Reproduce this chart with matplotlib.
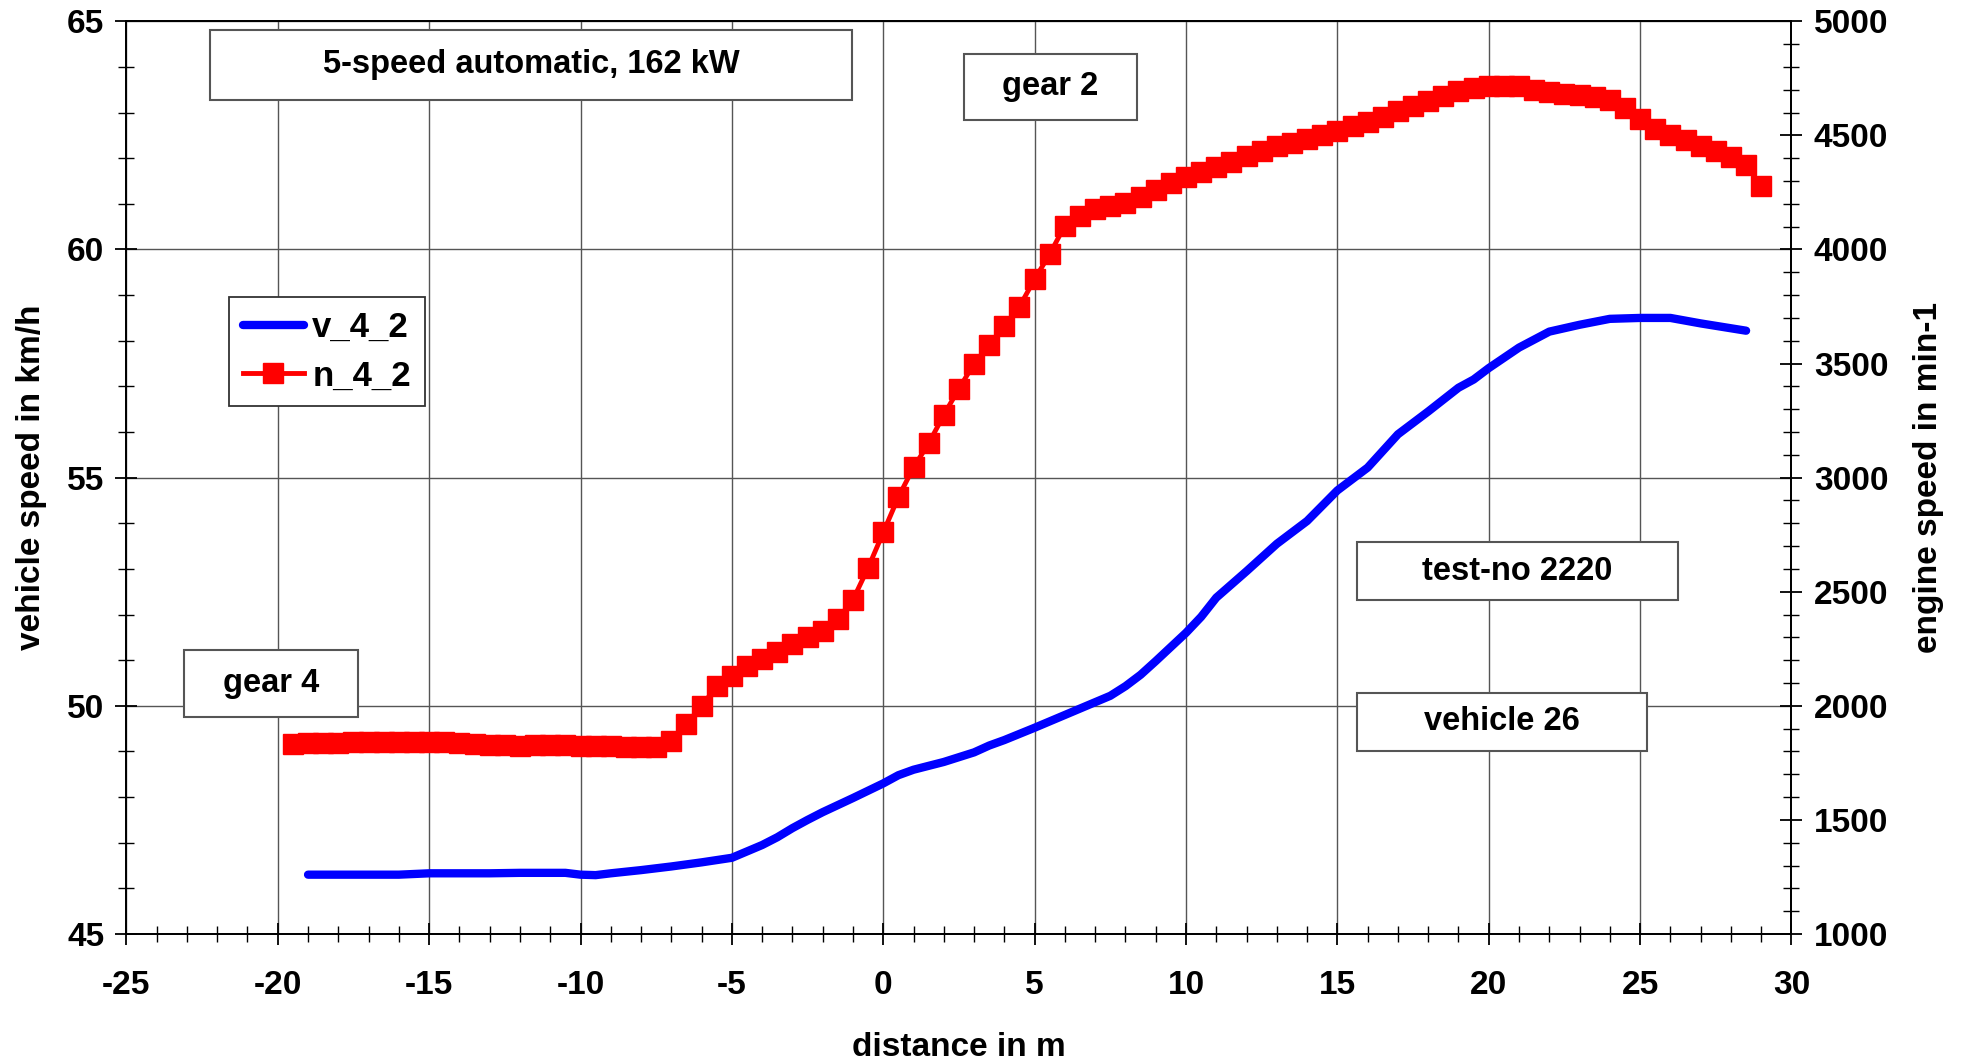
import matplotlib
matplotlib.use("Agg")
import matplotlib.pyplot as plt
from matplotlib.ticker import MultipleLocator
from matplotlib.patches import Rectangle

plt.rcParams['font.family'] = ['Liberation Sans', 'DejaVu Sans']
plt.rcParams['font.weight'] = 'bold'
plt.rcParams['axes.unicode_minus'] = False

# engine speed n_4_2 (min-1) vs distance (m)
n_x = [-19.5, -19.0, -18.5, -18.0, -17.5, -17.0, -16.5, -16.0, -15.5, -15.0,
       -14.5, -14.0, -13.5, -13.0, -12.5, -12.0, -11.5, -11.0, -10.5, -10.0,
       -9.5, -9.0, -8.5, -8.0, -7.5, -7.0, -6.5, -6.0, -5.5, -5.0,
       -4.5, -4.0, -3.5, -3.0, -2.5, -2.0, -1.5, -1.0, -0.5, 0.0,
       0.5, 1.0, 1.5, 2.0, 2.5, 3.0, 3.5, 4.0, 4.5, 5.0,
       5.5, 6.0, 6.5, 7.0, 7.5, 8.0, 8.5, 9.0, 9.5, 10.0,
       10.5, 11.0, 11.5, 12.0, 12.5, 13.0, 13.5, 14.0, 14.5, 15.0,
       15.5, 16.0, 16.5, 17.0, 17.5, 18.0, 18.5, 19.0, 19.5, 20.0,
       20.5, 21.0, 21.5, 22.0, 22.5, 23.0, 23.5, 24.0, 24.5, 25.0,
       25.5, 26.0, 26.5, 27.0, 27.5, 28.0, 28.5, 29.0]
n_val = [1833, 1835, 1836, 1838, 1840, 1841, 1842, 1843, 1843, 1842,
         1840, 1836, 1832, 1829, 1827, 1826, 1827, 1828, 1828, 1826,
         1824, 1822, 1820, 1818, 1818, 1845, 1920, 2000, 2085, 2130,
         2175, 2205, 2238, 2270, 2300, 2330, 2380, 2465, 2605, 2760,
         2915, 3045, 3150, 3275, 3390, 3500, 3580, 3665, 3750, 3870,
         3980, 4105, 4145, 4178, 4190, 4205, 4232, 4262, 4292, 4318,
         4340, 4362, 4385, 4410, 4432, 4452, 4468, 4482, 4500, 4520,
         4540, 4560, 4580, 4605, 4630, 4652, 4672, 4695, 4708, 4715,
         4717, 4715, 4700, 4690, 4682, 4678, 4670, 4655, 4620, 4570,
         4530, 4500, 4480, 4455, 4430, 4405, 4370, 4280]

# vehicle speed v_4_2 (km/h) vs distance (m)
v_x = [-19, -18, -17, -16, -15, -14, -13, -12, -11, -10.5, -10, -9.5, -9, -8, -7, -6, -5,
       -4, -3.5, -3, -2.5, -2, -1, 0, 0.5, 1, 2, 3, 3.5, 4, 5, 6, 7, 7.5, 8, 8.5, 9,
       10, 10.5, 11, 12, 13, 14, 15, 16, 17, 18, 19, 19.5, 20, 21, 22, 23, 24, 25, 26,
       27, 28.5]
v_val = [46.30, 46.30, 46.30, 46.30, 46.33, 46.33, 46.33, 46.34, 46.34, 46.34, 46.30,
         46.29, 46.33, 46.40, 46.48, 46.57, 46.67, 46.95, 47.12, 47.32, 47.50, 47.67,
         47.98, 48.30, 48.48, 48.60, 48.77, 48.98, 49.13, 49.25, 49.52, 49.80, 50.08,
         50.22, 50.43, 50.68, 50.98, 51.60, 51.95, 52.37, 52.95, 53.55, 54.05, 54.72,
         55.22, 55.95, 56.45, 56.97, 57.15, 57.40, 57.85, 58.20, 58.35, 58.48, 58.50,
         58.50, 58.38, 58.22]

boxes = [("5-speed automatic, 162 kW", 210, 30, 852, 100),
         ("gear 2", 964, 54, 1137, 120),
         ("test-no 2220", 1357, 542, 1678, 600),
         ("vehicle 26", 1357, 693, 1647, 751),
         ("gear 4", 184, 650, 358, 717)]

W, H = 1963, 1061
fig = plt.figure(figsize=(W / 100, H / 100), dpi=100)
ax = fig.add_axes([126.4 / W, 1 - 934 / H, (1791.5 - 126.4) / W, (934 - 21.3) / H])
ax2 = ax.twinx()

ax.set_xlim(-25, 30)
ax.set_ylim(45, 65)
ax2.set_ylim(1000, 5000)

ax.xaxis.set_major_locator(MultipleLocator(5))
ax.xaxis.set_minor_locator(MultipleLocator(1))
ax.yaxis.set_major_locator(MultipleLocator(5))
ax.yaxis.set_minor_locator(MultipleLocator(1))
ax2.yaxis.set_major_locator(MultipleLocator(500))
ax2.yaxis.set_minor_locator(MultipleLocator(100))

ax.grid(True, which='major', color='#555555', lw=1.0)
ax.set_axisbelow(True)

for a in (ax, ax2):
    a.tick_params(which='major', direction='inout', length=16, width=1.3, labelsize=24, pad=8)
    a.tick_params(which='minor', direction='inout', length=12, width=1.0)
    for s in a.spines.values():
        s.set_linewidth(1.3)
for lab in ax.get_xticklabels() + ax.get_yticklabels() + ax2.get_yticklabels():
    lab.set_fontweight('bold')
ax.tick_params(axis='x', pad=18)

l1, = ax.plot(v_x, v_val, color='#0000ff', lw=6, solid_capstyle='round', label='v_4_2', zorder=3)
l2, = ax2.plot(n_x, n_val, color='#ff0000', lw=3.5, marker='s', ms=14, mec='#ff0000',
               label='n_4_2', zorder=3)

ax.set_xlabel('distance in m', fontsize=24, fontweight='bold', labelpad=22)
ax.set_ylabel('vehicle speed in km/h', fontsize=24, fontweight='bold', labelpad=14)
ax2.set_ylabel('engine speed in min-1', fontsize=24, fontweight='bold', labelpad=18)

leg = ax.legend([l1, l2], ['v_4_2', 'n_4_2'], loc='upper left',
                bbox_to_anchor=(229 / W, 1 - 297 / H), bbox_transform=fig.transFigure,
                borderaxespad=0, numpoints=1,
                fontsize=25, frameon=True, fancybox=False, framealpha=1, edgecolor='#333333',
                handlelength=1.75, handletextpad=0.25, borderpad=0.4, labelspacing=0.45)
for t in leg.get_texts():
    t.set_fontweight('bold')
leg.get_frame().set_linewidth(1.3)
leg.set_zorder(10)

for txt, x0, y0, x1, y1 in boxes:
    r = Rectangle((x0 / W, 1 - y1 / H), (x1 - x0) / W, (y1 - y0) / H, transform=fig.transFigure,
                  facecolor='white', edgecolor='#555555', lw=1.5, zorder=10)
    fig.add_artist(r)
    fig.text((x0 + x1) / 2 / W, 1 - (y0 + y1) / 2 / H, txt, ha='center', va='center',
             fontsize=23.5, fontweight='bold', zorder=11)

fig.savefig('out.png', dpi=100)
